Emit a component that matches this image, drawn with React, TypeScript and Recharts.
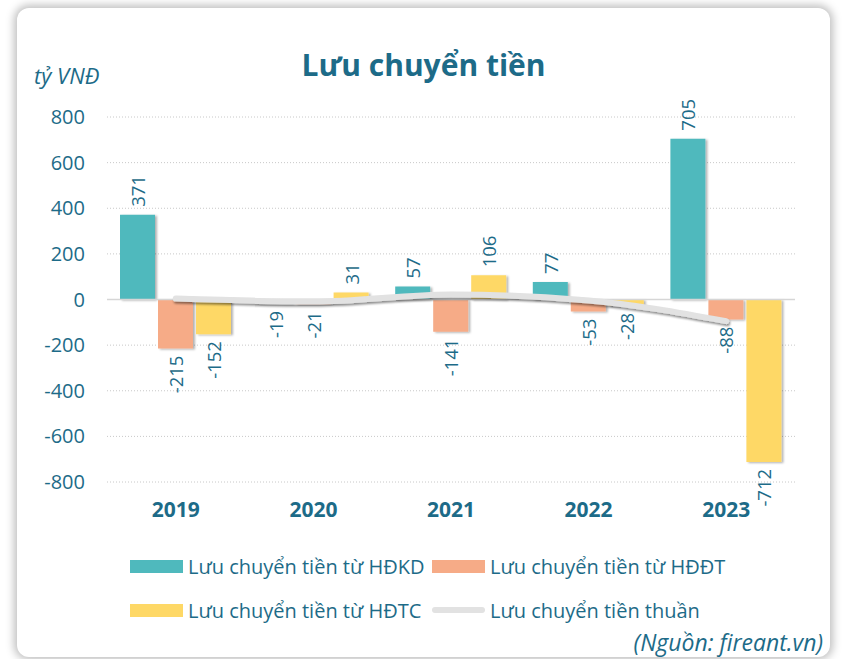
import React from "react";
import {
  ComposedChart,
  Bar,
  Line,
  XAxis,
  YAxis,
  CartesianGrid,
  ReferenceLine,
} from "recharts";

const years = ["2019", "2020", "2021", "2022", "2023"];
const hdkd = [371, -19, 57, 77, 705];
const hddt = [-215, -21, -141, -53, -88];
const hdtc = [-152, 31, 106, -28, -712];
const thuan = [4, -9, 22, -4, -95];
const yTicks = [-800, -600, -400, -200, 0, 200, 400, 600, 800];

const TEXT = "#1d6b88";
const FONT = "'Open Sans', 'Noto Sans', sans-serif";
const C_KD = "#4fb9bd";
const C_DT = "#f6ab87";
const C_TC = "#fed866";
const C_NET = "#e2e2e2";

const data = years.map((y, i) => ({
  year: y,
  hdkd: hdkd[i],
  hddt: hddt[i],
  hdtc: hdtc[i],
  thuan: thuan[i],
}));

// vertical value labels, above positive bars and below negative ones
const BarLabel = (props: any) => {
  const { x, y, width, height, value } = props;
  const top = Math.min(y, y + height);
  const bottom = Math.max(y, y + height);
  const cx = x + width / 2;
  const neg = value < 0;
  const py = neg ? bottom + 7 : top - 8;
  return (
    <text
      x={cx}
      y={py}
      transform={`rotate(-90 ${cx} ${py})`}
      textAnchor={neg ? "end" : "start"}
      dominantBaseline="central"
      fill={TEXT}
      fontSize={18.5}
      fontFamily={FONT}
    >
      {value}
    </text>
  );
};

const legendItems = [
  { label: "Lưu chuyển tiền từ HĐKD", color: C_KD, line: false, left: 130, cy: 566 },
  { label: "Lưu chuyển tiền từ HĐĐT", color: C_DT, line: false, left: 432, cy: 566 },
  { label: "Lưu chuyển tiền từ HĐTC", color: C_TC, line: false, left: 130, cy: 610 },
  { label: "Lưu chuyển tiền thuần", color: C_NET, line: true, left: 432, cy: 610 },
];

export default function App() {
  return (
    <div
      style={{
        position: "fixed",
        left: 0,
        top: 0,
        width: 847,
        height: 659,
        background: "#ffffff",
        overflow: "hidden",
        fontFamily: FONT,
      }}
    >
      <div
        style={{
          position: "absolute",
          left: 17,
          top: 8,
          width: 813,
          height: 649,
          background: "#ffffff",
          borderRadius: 12,
          boxShadow: "0 0 8px 3px rgba(0,0,0,0.25)",
        }}
      />
      <div
        style={{
          position: "absolute",
          left: 0,
          top: 44,
          width: 847,
          textAlign: "center",
          fontSize: 30,
          fontWeight: 700,
          color: TEXT,
        }}
      >
        Lưu chuyển tiền
      </div>
      <div
        style={{
          position: "absolute",
          left: 34,
          top: 60,
          fontSize: 22,
          fontStyle: "italic",
          color: TEXT,
        }}
      >
        tỷ VNĐ
      </div>
      <div style={{ position: "absolute", left: 0, top: 0 }}>
        <ComposedChart
          width={847}
          height={659}
          data={data}
          margin={{ top: 117, right: 52, bottom: 137, left: 0 }}
          barSize={35}
          barGap={3}
        >
          <defs>
            <filter id="barShadow" x="-20%" y="-20%" width="150%" height="150%">
              <feDropShadow dx="2" dy="1" stdDeviation="1" floodColor="#000" floodOpacity="0.3" />
            </filter>
            <filter id="lineShadow" x="-10%" y="-50%" width="120%" height="200%">
              <feDropShadow dx="1" dy="2" stdDeviation="1" floodColor="#000" floodOpacity="0.45" />
            </filter>
          </defs>
          <CartesianGrid
            vertical={false}
            stroke="#c8c8c8"
            strokeDasharray="1 2"
          />
          <XAxis
            dataKey="year"
            axisLine={false}
            tickLine={false}
            tickSize={0}
            tickMargin={20}
            height={40}
            tick={{ fill: TEXT, fontSize: 21, fontWeight: 700, fontFamily: FONT }}
          />
          <YAxis
            domain={[-800, 800]}
            ticks={yTicks}
            width={107}
            axisLine={false}
            tickLine={false}
            tickSize={0}
            tickMargin={22}
            tick={{ fill: TEXT, fontSize: 20, fontFamily: FONT }}
          />
          <ReferenceLine y={0} stroke="#d6d6d6" strokeWidth={1.5} />
          <Bar
            dataKey="hdkd"
            fill={C_KD}
            filter="url(#barShadow)"
            isAnimationActive={false}
            label={<BarLabel />}
          />
          <Bar
            dataKey="hddt"
            fill={C_DT}
            filter="url(#barShadow)"
            isAnimationActive={false}
            label={<BarLabel />}
          />
          <Bar
            dataKey="hdtc"
            fill={C_TC}
            filter="url(#barShadow)"
            isAnimationActive={false}
            label={<BarLabel />}
          />
          <Line
            type="monotone"
            dataKey="thuan"
            stroke={C_NET}
            strokeWidth={6}
            strokeLinecap="round"
            dot={false}
            activeDot={false}
            filter="url(#lineShadow)"
            isAnimationActive={false}
          />
        </ComposedChart>
      </div>
      {/* legend, two rows */}
      {legendItems.map((it) => (
        <div
          key={it.label}
          style={{
            position: "absolute",
            left: it.left,
            top: it.cy - 15,
            height: 30,
            display: "flex",
            alignItems: "center",
            whiteSpace: "nowrap",
            fontSize: 20,
            color: TEXT,
          }}
        >
          <span
            style={{
              display: "inline-block",
              flexShrink: 0,
              width: 53,
              height: it.line ? 6 : 13,
              background: it.color,
              borderRadius: it.line ? 3 : 0,
              marginRight: 5,
            }}
          />
          {it.label}
        </div>
      ))}
      <div
        style={{
          position: "absolute",
          right: 24,
          top: 626,
          fontSize: 23,
          fontStyle: "italic",
          color: TEXT,
        }}
      >
        (Nguồn: fireant.vn)
      </div>
    </div>
  );
}
